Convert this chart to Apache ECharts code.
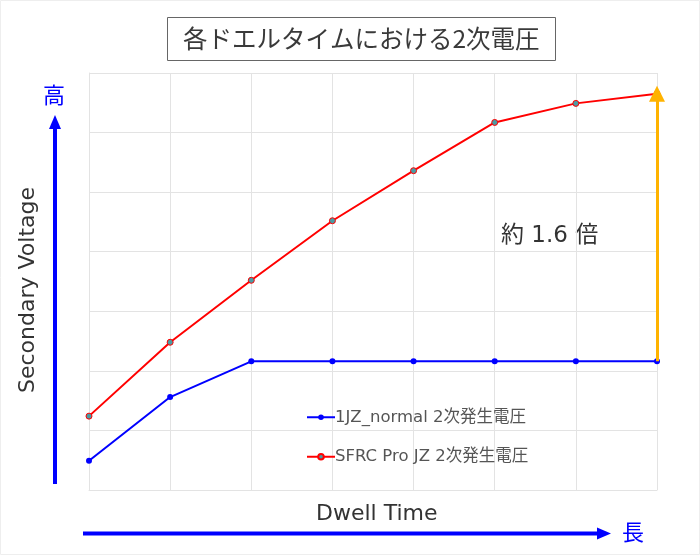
<!DOCTYPE html>
<html><head><meta charset="utf-8">
<script src="https://cdn.jsdelivr.net/npm/echarts@6/dist/echarts.min.js"></script>
<style>html,body{margin:0;padding:0;background:#fff}#c{width:700px;height:555px}</style>
</head><body><div id="c"></div>
<script>
const categories = ['1','2','3','4','5','6','7','8'];
const normalValues = [0.49, 1.56, 2.16, 2.16, 2.16, 2.16, 2.16, 2.16];
const sfrcValues = [1.24, 2.48, 3.52, 4.52, 5.36, 6.17, 6.49, 6.65];
const seriesNames = ['1JZ_normal 2次発生電圧', 'SFRC Pro JZ 2次発生電圧'];
const titleText = '各ドエルタイムにおける2次電圧';
const ratioText = '約 1.6 倍';
const FONT = '"DejaVu Sans", "Noto Sans CJK JP", sans-serif';
const CJK = '"Noto Sans CJK JP", sans-serif';

const chart = echarts.init(document.getElementById('c'), null, {renderer: 'canvas'});
const last = categories.length - 1;
chart.setOption({
  backgroundColor: '#fff',
  animation: false,
  textStyle: {fontFamily: FONT},
  title: {
    text: titleText, left: 167, top: 17,
    padding: [8, 16, 8, 16],
    borderColor: '#666', borderWidth: 1,
    textStyle: {fontSize: 24.5, fontWeight: 'normal', color: '#3a3a3a', fontFamily: CJK, lineHeight: 28}
  },
  grid: {left: 89, right: 43, top: 73, bottom: 65},
  legend: {
    orient: 'vertical', left: 301, top: 404, itemGap: 23,
    itemWidth: 28, itemHeight: 7,
    textStyle: {fontSize: 16.5, color: '#555', fontFamily: FONT, padding: [0,0,0,-5]},
    data: seriesNames
  },
  xAxis: {
    type: 'category', data: categories, boundaryGap: false,
    axisLine: {show: true, lineStyle: {color: '#e3e3e3'}},
    axisTick: {show: false}, axisLabel: {show: false},
    splitLine: {show: true, lineStyle: {color: '#e3e3e3'}}
  },
  yAxis: {
    type: 'value', min: 0, max: 7, interval: 1,
    axisLine: {show: true, lineStyle: {color: '#e3e3e3'}},
    axisTick: {show: false}, axisLabel: {show: false},
    splitLine: {show: true, lineStyle: {color: '#e3e3e3'}}
  },
  series: [
    {
      name: seriesNames[0], type: 'line', data: normalValues,
      symbol: 'circle', symbolSize: 6,
      lineStyle: {color: '#0000ff', width: 2},
      itemStyle: {color: '#0000ff'}
    },
    {
      name: seriesNames[1], type: 'line', data: sfrcValues,
      symbol: 'circle', symbolSize: 6,
      lineStyle: {color: '#ff0000', width: 2},
      itemStyle: {color: '#4a9ca4', borderColor: '#ff0000', borderWidth: 1},
      markLine: {
        silent: true, animation: false,
        symbol: ['none', 'triangle'], symbolSize: [16, 16],
        label: {show: false},
        lineStyle: {color: '#ffb300', width: 3, type: 'solid'},
        data: [[{coord: [last, normalValues[last]]}, {coord: [last, sfrcValues[last]]}]]
      },
      z: 3
    }
  ],
  graphic: [
    {type: 'rect', shape: {x: 0.5, y: 0.5, width: 699, height: 554}, style: {fill: 'none', stroke: '#eeeeee', lineWidth: 1}, z: -1},
    {type: 'text', left: 501, top: 225, style: {text: ratioText, fontSize: 23, fill: '#333', fontFamily: FONT}},
    {type: 'text', x: 28, y: 290, rotation: Math.PI / 2, style: {text: 'Secondary Voltage', fontSize: 22, fill: '#333', fontFamily: FONT, align: 'center', verticalAlign: 'middle'}},
    {type: 'text', left: 316, top: 503, style: {text: 'Dwell Time', fontSize: 22, fill: '#333', fontFamily: FONT}},
    {type: 'line', shape: {x1: 55, y1: 484, x2: 55, y2: 128}, style: {stroke: '#0000ff', lineWidth: 4}},
    {type: 'polygon', shape: {points: [[55, 115], [49, 129], [61, 129]]}, style: {fill: '#0000ff'}},
    {type: 'text', x: 54, y: 95, style: {text: '高', fontSize: 22, fill: '#0000ff', fontFamily: CJK, align: 'center', verticalAlign: 'middle'}},
    {type: 'line', shape: {x1: 83, y1: 533.5, x2: 598, y2: 533.5}, style: {stroke: '#0000ff', lineWidth: 4}},
    {type: 'polygon', shape: {points: [[611, 533.5], [597, 527.5], [597, 539.5]]}, style: {fill: '#0000ff'}},
    {type: 'text', x: 633, y: 532, style: {text: '長', fontSize: 22, fill: '#0000ff', fontFamily: CJK, align: 'center', verticalAlign: 'middle'}}
  ]
});
</script>
</body></html>
